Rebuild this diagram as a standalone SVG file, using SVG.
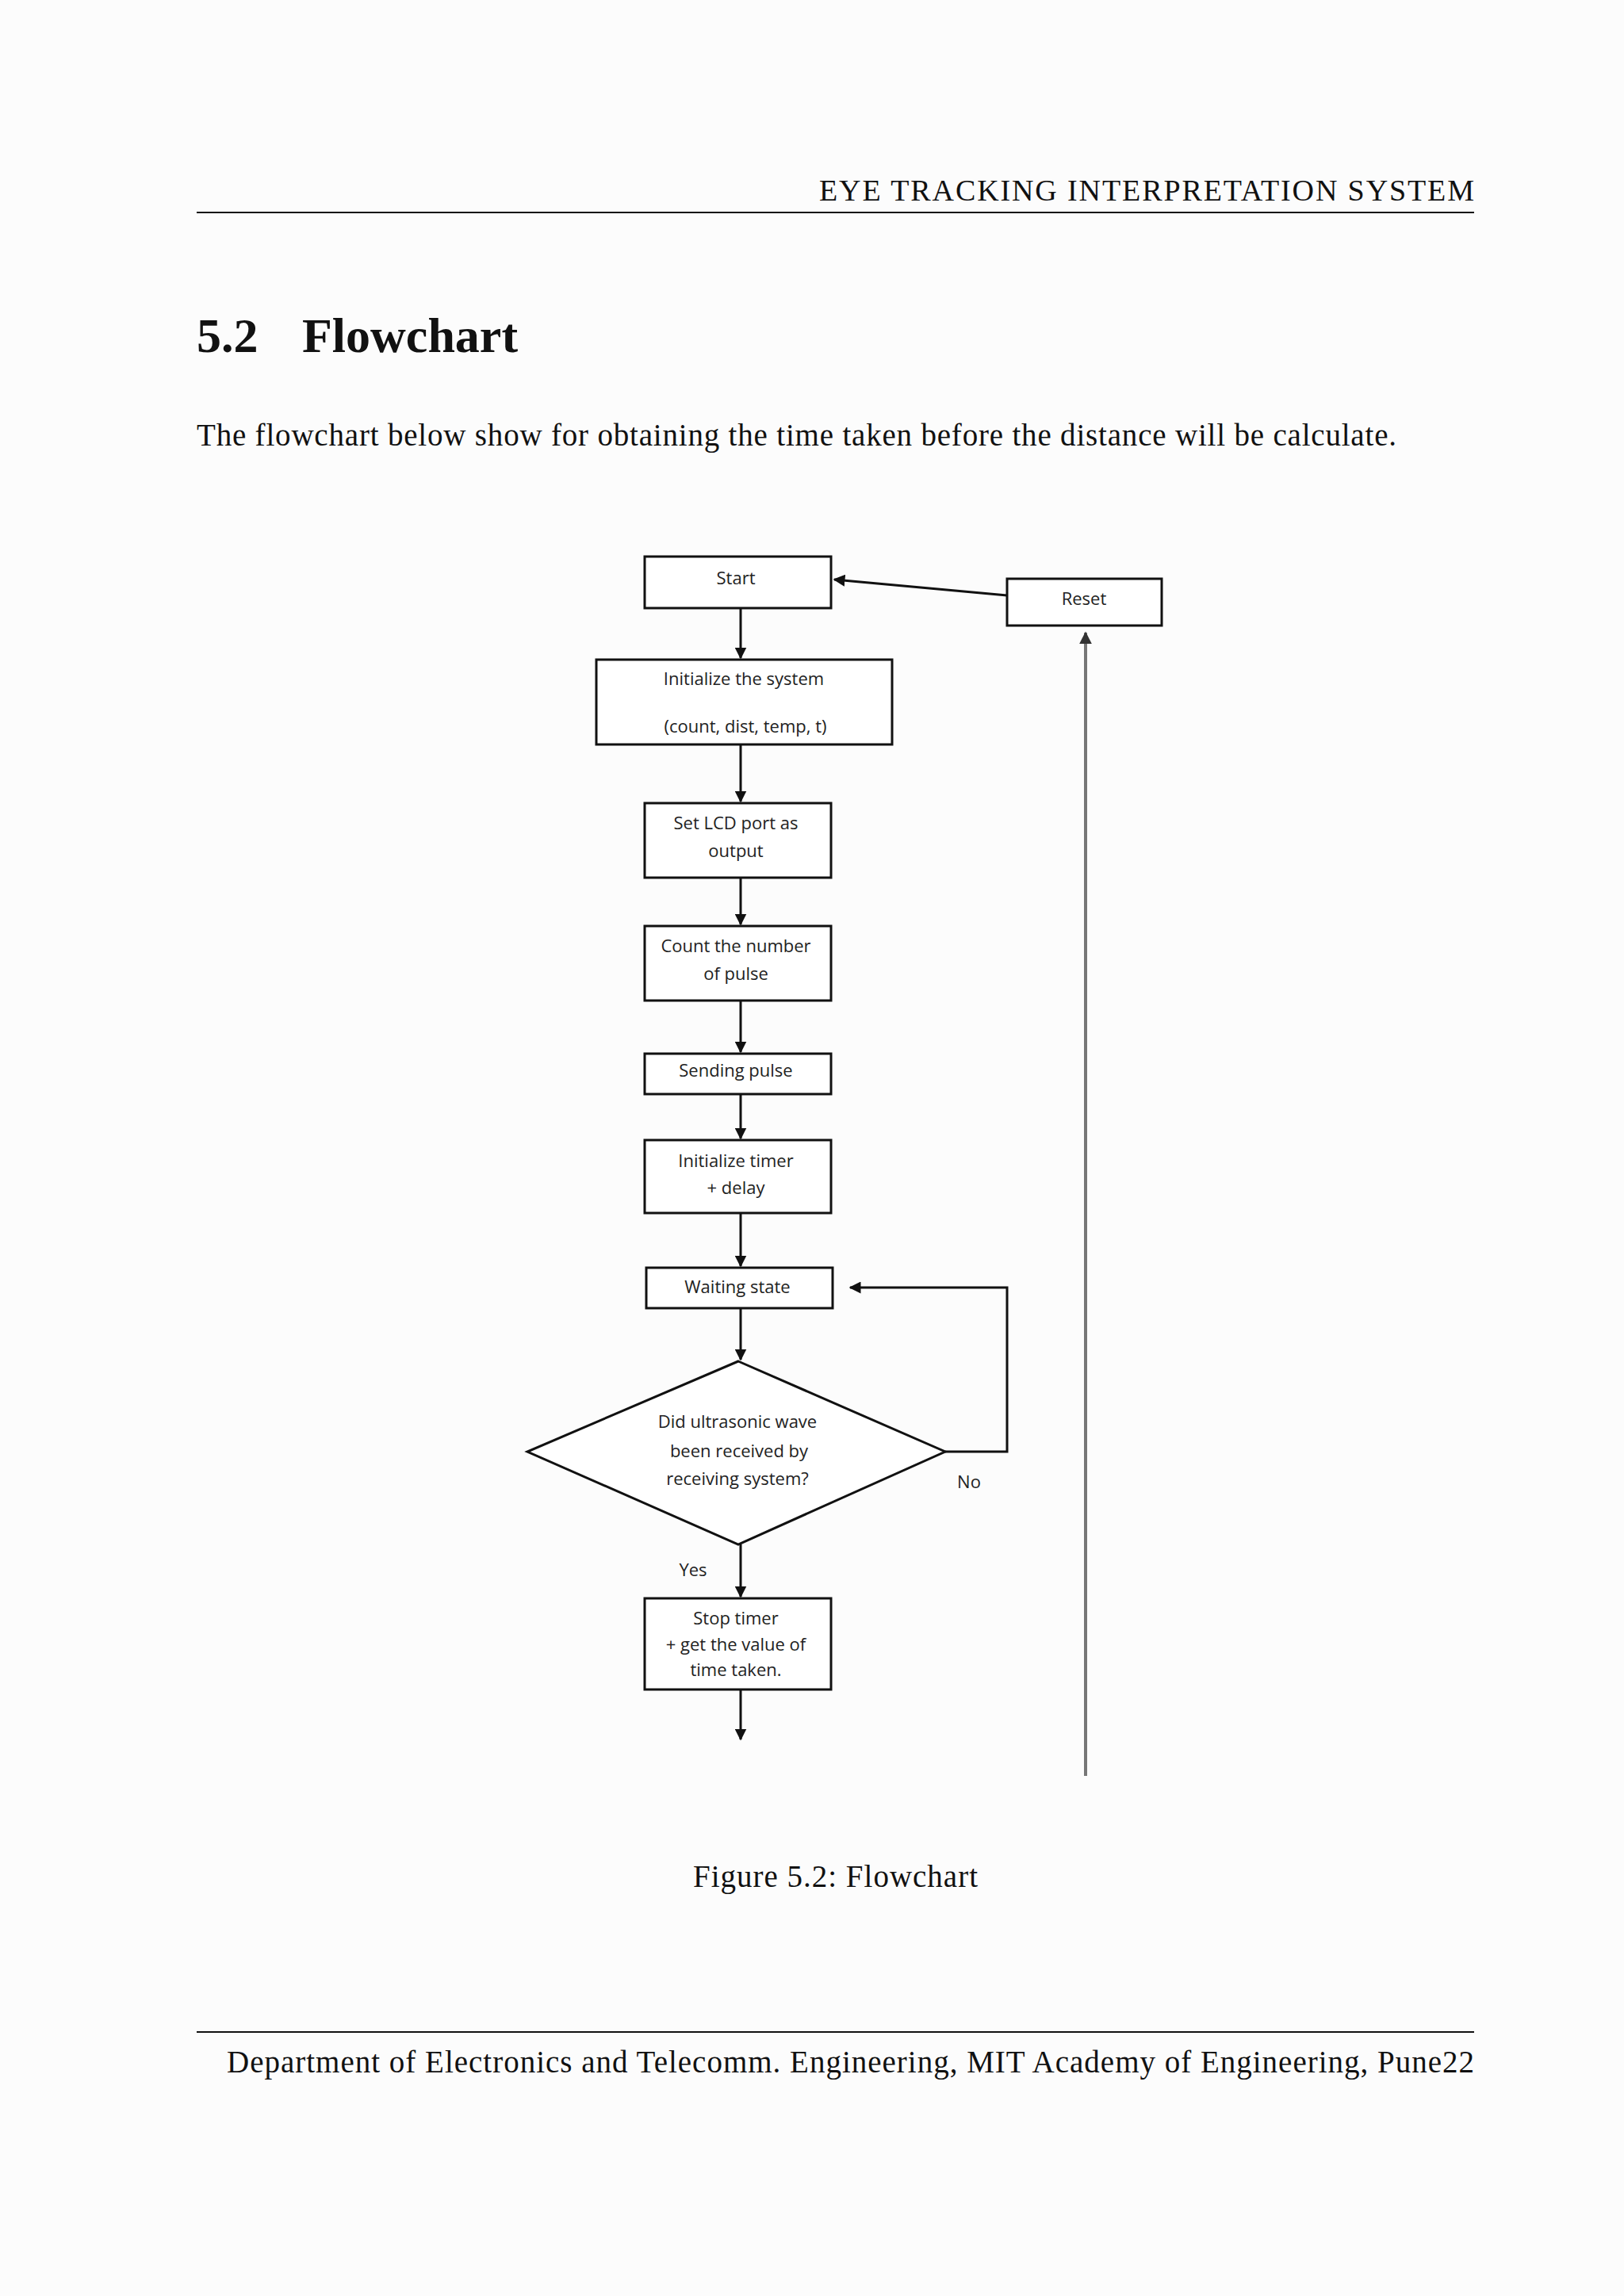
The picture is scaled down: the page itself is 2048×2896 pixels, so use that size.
<svg xmlns="http://www.w3.org/2000/svg" width="2048" height="2896" viewBox="0 0 2048 2896">
<style>
.pg{font-family:"Liberation Serif",serif;fill:#111}
.bx{fill:#fff;stroke:#111;stroke-width:3}
.t{font-family:"Open Sans","Liberation Sans",sans-serif;font-size:22px;fill:#222;text-anchor:middle}
.c{stroke:#111;stroke-width:3;fill:none}
</style>
<defs><marker id="a" viewBox="0 0 10 10" refX="9" refY="5" markerWidth="5" markerHeight="5" orient="auto"><path d="M0,0L10,5L0,10z" fill="#111"/></marker>
<marker id="g" viewBox="0 0 10 10" refX="9" refY="5" markerWidth="4" markerHeight="4" orient="auto"><path d="M0,0L10,5L0,10z" fill="#333"/></marker></defs>
<rect width="2048" height="2896" fill="#fcfcfc"/>
<text class="pg" x="1859" y="253" font-size="38" text-anchor="end" textLength="826">EYE TRACKING INTERPRETATION SYSTEM</text>
<line x1="248" y1="268" x2="1859" y2="268" stroke="#111" stroke-width="2"/>
<text class="pg" x="248" y="444" font-size="62" font-weight="bold">5.2</text>
<text class="pg" x="381" y="444" font-size="62" font-weight="bold">Flowchart</text>
<text class="pg" x="248" y="562" font-size="39" textLength="1513">The flowchart below show for obtaining the time taken before the distance will be calculate.</text>
<g id="connectors">
<line class="c" x1="1270" y1="751" x2="1052" y2="731" marker-end="url(#a)"/>
<line class="c" x1="934" y1="767" x2="934" y2="830" marker-end="url(#a)"/>
<line class="c" x1="934" y1="939" x2="934" y2="1011" marker-end="url(#a)"/>
<line class="c" x1="934" y1="1107" x2="934" y2="1166" marker-end="url(#a)"/>
<line class="c" x1="934" y1="1262" x2="934" y2="1327" marker-end="url(#a)"/>
<line class="c" x1="934" y1="1380" x2="934" y2="1436" marker-end="url(#a)"/>
<line class="c" x1="934" y1="1530" x2="934" y2="1597" marker-end="url(#a)"/>
<line class="c" x1="934" y1="1650" x2="934" y2="1715" marker-end="url(#a)"/>
<polyline class="c" points="1192,1831 1270,1831 1270,1624 1072,1624" marker-end="url(#a)"/>
<line class="c" x1="934" y1="1948" x2="934" y2="2014" marker-end="url(#a)"/>
<line class="c" x1="934" y1="2131" x2="934" y2="2194" marker-end="url(#a)"/>
<line x1="1369" y1="2240" x2="1369" y2="798" stroke="#777" stroke-width="4" marker-end="url(#g)"/>
<text class="t" x="1222" y="1877">No</text>
<text class="t" x="874" y="1988">Yes</text>
</g>
<g id="start"><rect class="bx" x="813" y="702" width="235" height="65"/><text class="t" x="928" y="737">Start</text></g>
<g id="reset"><rect class="bx" x="1270" y="730" width="195" height="59"/><text class="t" x="1367" y="763">Reset</text></g>
<g id="init"><rect class="bx" x="752" y="832" width="373" height="107"/><text class="t" x="938" y="864">Initialize the system</text><text class="t" x="940" y="924">(count, dist, temp, t)</text></g>
<g id="lcd"><rect class="bx" x="813" y="1013" width="235" height="94"/><text class="t" x="928" y="1046">Set LCD port as</text><text class="t" x="928" y="1081">output</text></g>
<g id="count"><rect class="bx" x="813" y="1168" width="235" height="94"/><text class="t" x="928" y="1201">Count the number</text><text class="t" x="928" y="1236">of pulse</text></g>
<g id="send"><rect class="bx" x="813" y="1329" width="235" height="51"/><text class="t" x="928" y="1358">Sending pulse</text></g>
<g id="timer"><rect class="bx" x="813" y="1438" width="235" height="92"/><text class="t" x="928" y="1472">Initialize timer</text><text class="t" x="928" y="1506">+ delay</text></g>
<g id="wait"><rect class="bx" x="815" y="1599" width="235" height="51"/><text class="t" x="930" y="1631">Waiting state</text></g>
<g id="decision"><polygon class="bx" points="931,1717 1192,1831 931,1948 665,1831"/><text class="t" x="930" y="1801">Did ultrasonic wave</text><text class="t" x="932" y="1838">been received by</text><text class="t" x="930" y="1873">receiving system?</text></g>
<g id="stop"><rect class="bx" x="813" y="2016" width="235" height="115"/><text class="t" x="928" y="2049">Stop timer</text><text class="t" x="928" y="2082">+ get the value of</text><text class="t" x="928" y="2114">time taken.</text></g>
<text class="pg" x="874" y="2380" font-size="39" textLength="359">Figure 5.2: Flowchart</text>
<line x1="248" y1="2563" x2="1859" y2="2563" stroke="#111" stroke-width="2"/>
<text class="pg" x="286" y="2614" font-size="39" textLength="1573">Department of Electronics and Telecomm. Engineering, MIT Academy of Engineering, Pune22</text>
</svg>
